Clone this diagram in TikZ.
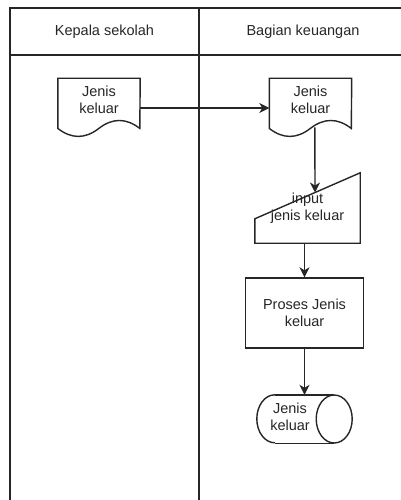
\documentclass[tikz,border=0pt]{standalone}
\usepackage{fontspec}
\setmainfont{Liberation Sans}
\usetikzlibrary{calc,arrows.meta}

% two-line label set as a centred column
\newcommand\twolines[2]{\begin{tabular}{@{}c@{}}#1\\#2\end{tabular}}

% outline of a document symbol (flat top, wavy bottom) around node #1 (82 x 59)
\newcommand\docoutline[1]{%
  \draw[shapeline] (#1.north west) -- (#1.north east)
    -- ($(#1.north west)+(82,50.15)$)
    .. controls ($(#1.north west)+(68.33,39.53)$) and ($(#1.north west)+(54.67,39.53)$)
    .. ($(#1.north west)+(41,50.15)$)
    .. controls ($(#1.north west)+(27.33,60.77)$) and ($(#1.north west)+(13.67,60.77)$)
    .. ($(#1.north west)+(0,50.15)$) -- cycle;}

\begin{document}
\begin{tikzpicture}[x=1pt,y=-1pt,
  shapeline/.style={draw=black!85,line width=1.4pt},
  every node/.style={font=\fontsize{14.5}{17}\selectfont,text=black!85,inner sep=0pt},
  docbox/.style={minimum width=82pt,minimum height=59pt},
  procbox/.style={shapeline,minimum width=118pt,minimum height=70pt,align=center},
  inbox/.style={minimum width=105pt,minimum height=70pt,align=center},
  storebox/.style={minimum width=95pt,minimum height=48pt},
  flow/.style={draw=black!85,line width=1.4pt,-{Stealth[length=10pt,width=10pt,inset=3pt]}}]

\useasboundingbox (0,0) rectangle (401,500);
\clip (0,0) rectangle (401,500);

% swimlanes
\draw[shapeline] (10,8) rectangle (407,520);
\draw[shapeline] (10,55) -- (407,55);
\draw[shapeline] (199,8) -- (199,520);
\node (lane1) at (104.5,31.5) {Kepala sekolah};
\node (lane2) at (303,31.5) {Bagian keuangan};

% documents
\node[docbox] (d1) at (99,108) {\raisebox{6pt}[\height][\depth]{\twolines{Jenis}{keluar}}};
\docoutline{d1}
\node[docbox] (d2) at (310.5,108) {\raisebox{6pt}[\height][\depth]{\twolines{Jenis}{keluar}}};
\docoutline{d2}

% manual input
\node[inbox] (mi) at (307.5,208) {input\\jenis keluar};
\coordinate (milow) at ($(mi.north west)+(0,46)$);
\draw[shapeline] (mi.south west) -- (mi.south east) -- (mi.north east) -- (milow) -- cycle;

% process
\node[procbox] (p) at (304.5,313) {Proses Jenis\\keluar};

% stored data (horizontal cylinder)
\node[storebox] (cyl) at (304.5,419) {\twolines{Jenis}{keluar}\hspace*{29pt}};
\draw[shapeline] ($(cyl.north west)+(18,0)$) -- ($(cyl.north east)+(-18,0)$);
\draw[shapeline] ($(cyl.south west)+(18,0)$) -- ($(cyl.south east)+(-18,0)$);
\draw[shapeline] ($(cyl.east)+(-18,0)$) ellipse [x radius=18pt,y radius=24pt];
\draw[shapeline] ($(cyl.north west)+(18,0)$) arc [start angle=90,end angle=270,x radius=18pt,y radius=24pt];

% connectors
\coordinate (d2out) at ($(d2.north west)+(45.5,49)$);
\coordinate (miin) at ($(milow)!0.5714!(mi.north east)$);
\draw[flow] (d1.east) -- (d2.west);
\draw[flow] (d2out) -- (miin);
\draw[flow] (mi.south -| p.north) -- (p.north);
\draw[flow] (p.south) -- (cyl.north);
\end{tikzpicture}
\end{document}
